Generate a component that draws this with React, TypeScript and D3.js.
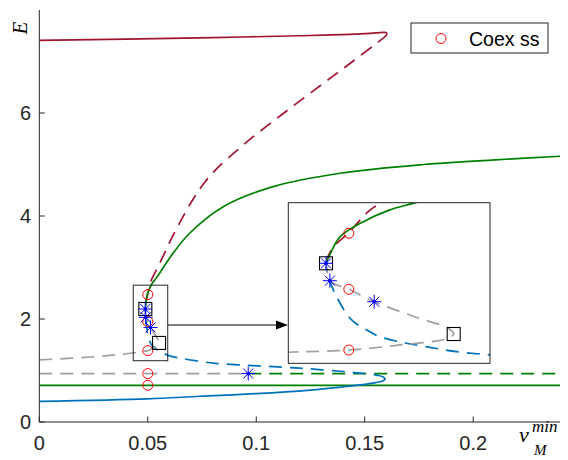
import React from 'react';
import * as d3 from 'd3';

// tick values
const xTicks = [0, 0.05, 0.1, 0.15, 0.2];
const xTickLabels = ['0', '0.05', '0.1', '0.15', '0.2'];
const yTicks = [0, 2, 4, 6];

// branches, [v_M^min, E]
const redStable = [[0, 7.41], [0.04, 7.435], [0.08, 7.465], [0.12, 7.5], [0.145, 7.53], [0.155, 7.555], [0.159, 7.565], [0.16, 7.56], [0.1603, 7.545]];
const redUnstable = [[0.1603, 7.545], [0.1597, 7.5], [0.1547, 7.33], [0.1447, 7.01], [0.1355, 6.72], [0.1263, 6.43], [0.1171, 6.14], [0.1078, 5.84], [0.0986, 5.54], [0.091, 5.27], [0.0818, 4.92], [0.076, 4.64], [0.0708, 4.32], [0.0616, 3.62], [0.0556, 3.09], [0.052, 2.79], [0.05105, 2.69], [0.05, 2.48], [0.0493, 2.36], [0.049, 2.27], [0.04887, 2.194]];
const greenUpper = [[0.04887, 2.194], [0.0491, 2.29], [0.04956, 2.44], [0.0507, 2.58], [0.052, 2.69], [0.0533, 2.76], [0.0556, 2.9], [0.0617, 3.28], [0.0694, 3.67], [0.0848, 4.18], [0.1078, 4.57], [0.1386, 4.83], [0.177, 5.0], [0.21, 5.09], [0.24, 5.16]];
const blueStable = [[0, 0.4], [0.05, 0.45], [0.074, 0.5], [0.1, 0.55], [0.125, 0.62], [0.1386, 0.675], [0.148, 0.72], [0.155, 0.765], [0.1585, 0.8], [0.1595, 0.835]];
const blueUnstable = [[0.1595, 0.835], [0.1585, 0.875], [0.1555, 0.91], [0.148, 0.95], [0.1386, 0.985], [0.125, 1.03], [0.112, 1.065], [0.096, 1.1], [0.081, 1.14], [0.072, 1.19], [0.065, 1.24], [0.06, 1.285], [0.057, 1.34], [0.05534, 1.37], [0.05402, 1.411], [0.05286, 1.449], [0.05154, 1.51], [0.05088, 1.573], [0.05014, 1.666], [0.04948, 1.852], [0.04898, 2.069], [0.04887, 2.194]];
const grayBranch = [[0, 1.205], [0.0264, 1.27], [0.0418, 1.335], [0.047, 1.365], [0.05, 1.386], [0.05253, 1.433], [0.05493, 1.495], [0.0552, 1.535], [0.05493, 1.588], [0.0532, 1.7], [0.05126, 1.836], [0.05, 1.952], [0.04906, 2.032], [0.04887, 2.194]];
const grayFlat = [[0, 0.94], [0.0963, 0.94]];
const greenFlatDashed = [[0.0963, 0.94], [0.24, 0.94]];
const greenFlat = [[0, 0.713], [0.24, 0.713]];

// special points
const coexV = 0.05;
const coexE = [2.474, 1.952, 1.386, 0.94, 0.713];
const stars = [[0.04887, 2.194], [0.04906, 2.032], [0.05126, 1.836], [0.0963, 0.94]];
const squares = [[0.04887, 2.194], [0.0552, 1.535]];

// zoom window
const boxV = [0.0433, 0.0592];
const boxE = [1.19, 2.657];
const insetV = [0.047, 0.057];
const insetE = [1.262, 2.759];

const RED = '#A2142F', GREEN = '#008000', BLUE = '#0072BD', GRAY = '#a0a0a0', AX = '#262626';
const DASH = '13,8';

function Curves({ sx, sy }: any) {
  const line = d3.line<number[]>().x(d => sx(d[0])).y(d => sy(d[1])).curve(d3.curveCatmullRom.alpha(0.5));
  const p = (d: number[][], c: string, dashed: boolean) => (
    <path d={line(d) || ''} fill="none" stroke={c} strokeWidth={1.7} strokeDasharray={dashed ? DASH : undefined} />
  );
  return (
    <g>
      {p(greenFlat, GREEN, false)}
      {p(grayFlat, GRAY, true)}
      {p(greenFlatDashed, GREEN, true)}
      {p(blueStable, BLUE, false)}
      {p(blueUnstable, BLUE, true)}
      {p(grayBranch, GRAY, true)}
      {p(redStable, RED, false)}
      {p(redUnstable, RED, true)}
      {p(greenUpper, GREEN, false)}
    </g>
  );
}

function Markers({ sx, sy }: any) {
  return (
    <g>
      {coexE.map((e, i) => (
        <circle key={'c' + i} cx={sx(coexV)} cy={sy(e)} r={5} fill="none" stroke="#ff0000" strokeWidth={1} />
      ))}
      {squares.map((d, i) => (
        <rect key={'s' + i} x={sx(d[0]) - 6.5} y={sy(d[1]) - 6.5} width={13} height={13} fill="none" stroke="#000" strokeWidth={1.1} />
      ))}
      {stars.map((d, i) => {
        const cx = sx(d[0]), cy = sy(d[1]), r = 7, q = 5;
        return (
          <g key={'st' + i} stroke="#0000ff" strokeWidth={1}>
            <line x1={cx - r} y1={cy} x2={cx + r} y2={cy} />
            <line x1={cx} y1={cy - r} x2={cx} y2={cy + r} />
            <line x1={cx - q} y1={cy - q} x2={cx + q} y2={cy + q} />
            <line x1={cx - q} y1={cy + q} x2={cx + q} y2={cy - q} />
            <circle cx={cx} cy={cy} r={1.8} fill="#0000ff" stroke="none" />
          </g>
        );
      })}
    </g>
  );
}

export default function App() {
  const W = 568, H = 460;
  const x = d3.scaleLinear().domain([0, 0.24]).range([39.3, 560]);
  const y = d3.scaleLinear().domain([0, 8]).range([422, 10]);
  const ix = d3.scaleLinear().domain(insetV).range([288.3, 490]);
  const iy = d3.scaleLinear().domain(insetE).range([363.3, 202.7]);
  const font = '"Liberation Sans", Arial, Helvetica, sans-serif';
  const serif = '"Liberation Serif", "Times New Roman", serif';

  const arrowY = 325;

  return (
    <svg width={W} height={H} style={{ position: 'absolute', left: 0, top: 0, background: '#fff' }}>
      <defs>
        <clipPath id="mainClip">
          <rect x={39.3} y={10} width={520.7} height={412} />
        </clipPath>
        <clipPath id="insetClip">
          <rect x={288.3} y={202.7} width={201.7} height={160.6} />
        </clipPath>
      </defs>

      <g clipPath="url(#mainClip)">
        <Curves sx={x} sy={y} />
        <Markers sx={x} sy={y} />
      </g>

      {/* axes */}
      <line x1={x(0)} y1={y(0)} x2={560} y2={y(0)} stroke={AX} strokeWidth={1} />
      <line x1={x(0)} y1={y(0)} x2={x(0)} y2={10} stroke={AX} strokeWidth={1} />
      {xTicks.map((t, i) => (
        <g key={'xt' + i}>
          <line x1={x(t)} x2={x(t)} y1={y(0)} y2={y(0) - 5.5} stroke={AX} />
          <text x={x(t)} y={450} textAnchor="middle" fontFamily={font} fontSize={20} fill={AX}>{xTickLabels[i]}</text>
        </g>
      ))}
      {yTicks.map((t, i) => (
        <g key={'yt' + i}>
          <line x1={x(0)} x2={x(0) + 5.5} y1={y(t)} y2={y(t)} stroke={AX} />
          <text x={31} y={y(t) + 7} textAnchor="end" fontFamily={font} fontSize={20} fill={AX}>{t}</text>
        </g>
      ))}

      {/* axis labels */}
      <text transform="translate(27,28) rotate(-90)" textAnchor="middle" fontFamily={serif} fontStyle="italic" fontSize={21} fill="#000">E</text>
      <text x={519} y={442} fontFamily={serif} fontStyle="italic" fontSize={22} fill="#000">v</text>
      <text x={532} y={432} fontFamily={serif} fontStyle="italic" fontSize={17} fill="#000">min</text>
      <text x={534} y={455} fontFamily={serif} fontStyle="italic" fontSize={15} fill="#000">M</text>

      {/* zoom window + arrow */}
      <rect x={x(boxV[0])} y={y(boxE[1])} width={x(boxV[1]) - x(boxV[0])} height={y(boxE[0]) - y(boxE[1])} fill="none" stroke={AX} strokeWidth={1} />
      <line x1={x(boxV[1])} y1={arrowY} x2={277} y2={arrowY} stroke="#000" strokeWidth={1.2} />
      <path d={`M288,${arrowY} L276,${arrowY - 4.5} L276,${arrowY + 4.5} Z`} fill="#000" />

      {/* inset */}
      <rect x={288.3} y={202.7} width={201.7} height={160.6} fill="#fff" />
      <g clipPath="url(#insetClip)">
        <Curves sx={ix} sy={iy} />
        <Markers sx={ix} sy={iy} />
      </g>
      <rect x={288.3} y={202.7} width={201.7} height={160.6} fill="none" stroke={AX} strokeWidth={1} />

      {/* legend */}
      <rect x={411} y={23} width={137} height={30} fill="#fff" stroke={AX} strokeWidth={1} />
      <circle cx={441} cy={38.5} r={5} fill="none" stroke="#ff0000" strokeWidth={1} />
      <text x={469} y={45.5} fontFamily={font} fontSize={19.5} fill="#000">Coex ss</text>
    </svg>
  );
}
